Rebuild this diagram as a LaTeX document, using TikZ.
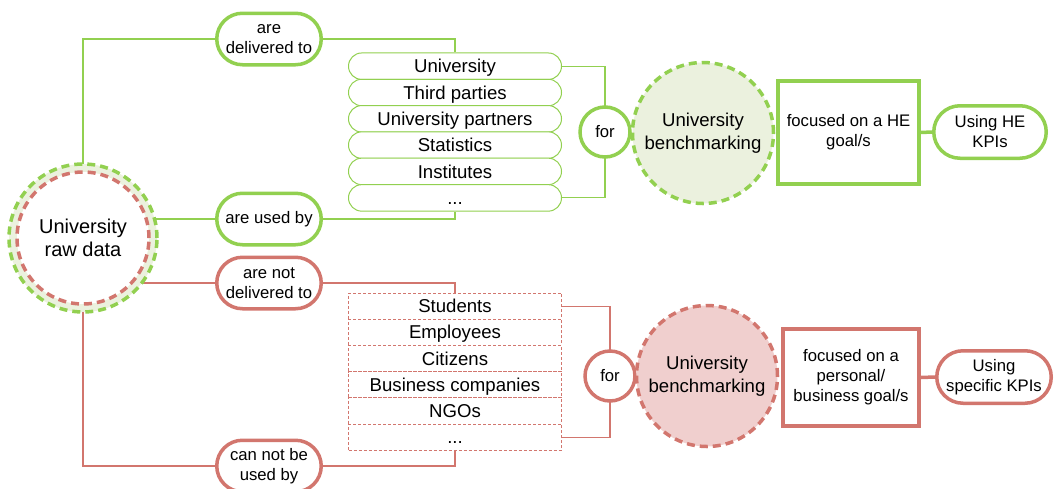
\documentclass[tikz,border=0pt]{standalone}
\usepackage{fontspec}
\setmainfont{Liberation Sans}
\usetikzlibrary{shapes.misc,backgrounds}
\definecolor{gr}{RGB}{146,208,80}
\definecolor{rd}{RGB}{210,118,110}
\definecolor{grfill}{RGB}{235,241,222}
\definecolor{rdfill}{RGB}{240,207,206}
\begin{document}
\begin{tikzpicture}[x=1pt,y=-1pt,
  smalltxt/.style={font=\fontsize{16.7}{20}\selectfont, align=center, inner sep=0pt},
  pill/.style={smalltxt, rounded rectangle, draw, line width=3.5pt, fill=white,
    minimum width=104.5pt, minimum height=51.5pt},
  forc/.style={smalltxt, circle, draw, line width=3.5pt, fill=white, minimum size=50pt},
  bench/.style={circle, draw, line width=3.5pt, dash pattern=on 8pt off 5pt,
    minimum size=141pt, inner sep=0pt, align=center, font=\fontsize{18.6}{22.5}\selectfont},
  focusbox/.style={smalltxt, rectangle, draw, line width=3.5pt, fill=white},
  rowg/.style={rounded rectangle, draw=gr, line width=1pt, fill=white,
    minimum width=213pt, minimum height=26.5pt, inner sep=0pt,
    text height=13.3pt, text depth=0pt, font=\fontsize{18.6}{22}\selectfont},
  rowr/.style={rectangle, draw=rd, line width=0.9pt, dash pattern=on 3pt off 2pt, fill=white,
    minimum width=213pt, minimum height=26.2pt, inner sep=0pt,
    text height=13.3pt, text depth=0pt, font=\fontsize{18.6}{22}\selectfont},
  gline/.style={draw=gr, line width=1.1pt},
  rline/.style={draw=rd, line width=1.1pt},
  thickg/.style={draw=gr, line width=3.5pt},
  thickr/.style={draw=rd, line width=3.5pt}
]
\useasboundingbox (0,0) rectangle (1054,488);

% ---------- main circle ----------
\node[circle, draw=gr, line width=3.5pt, dash pattern=on 8pt off 5pt, fill=grfill,
  minimum size=148pt, inner sep=0pt] (raw) at (83,238) {};
\node[circle, draw=rd, line width=3.5pt, dash pattern=on 8pt off 5pt, fill=white,
  minimum size=132pt, inner sep=0pt, align=center,
  font=\fontsize{20}{23}\selectfont] (rawin) at (83,238) {University\\raw data};

% ---------- green part ----------
\node[pill, draw=gr] (del) at (269,39) {are\\delivered to};
\node[pill, draw=gr] (used) at (269,219) {are used by};

\node[rowg] (g1) at (455,66.2) {University};
\node[rowg] (g2) at (455,92.5) {Third parties};
\node[rowg] (g3) at (455,118.8) {University partners};
\node[rowg] (g4) at (455,145.1) {Statistics};
\node[rowg] (g5) at (455,171.4) {Institutes};
\node[rowg] (g6) at (455,197.9) {...};

\node[forc, draw=gr] (gfor) at (605,132) {for};
\node[bench, draw=gr, fill=grfill] (gbench) at (703,133) {University\\benchmarking};
\node[focusbox, draw=gr, minimum width=141pt, minimum height=103pt] (gfocus) at (848.5,132.5)
  {focused on a HE\\goal/s};
\node[pill, draw=gr, minimum width=112.5pt, minimum height=52.5pt] (gkpi) at (990,132)
  {Using HE\\KPIs};

% ---------- red part ----------
\node[pill, draw=rd] (ndel) at (269,283) {are not\\delivered to};
\node[pill, draw=rd] (nuse) at (269,466) {can not be\\used by};

\node[rowr] (r1) at (455,306.1) {Students};
\node[rowr] (r2) at (455,332.3) {Employees};
\node[rowr] (r3) at (455,358.5) {Citizens};
\node[rowr] (r4) at (455,384.7) {Business companies};
\node[rowr] (r5) at (455,410.9) {NGOs};
\node[rowr] (r6) at (455,437.1) {...};

\node[forc, draw=rd] (rfor) at (610,376) {for};
\node[bench, draw=rd, fill=rdfill] (rbench) at (707,376) {University\\benchmarking};
\node[focusbox, draw=rd, minimum width=136pt, minimum height=97pt] (rfocus) at (851,377.5)
  {focused on a\\personal/\\business goal/s};
\node[pill, draw=rd, minimum width=114.5pt, minimum height=52.5pt] (rkpi) at (994,377)
  {Using\\specific KPIs};

% ---------- connectors ----------
\begin{scope}[on background layer]
  \draw[gline] (raw.center) |- (del.west);
  \draw[gline] (del.east) -| (g1.north);
  \draw[gline] (used.west) -- (used.west -| raw.center);
  \draw[gline] (used.east) -| (g6.south);
  \draw[gline] (g1.east) -| (gfor.center) |- (g6.east);
  \draw[thickg] (gfocus.east) -- (gkpi.west);

  \draw[rline] (ndel.west) -- (ndel.west -| raw.center);
  \draw[rline] (ndel.east) -| (r1.north);
  \draw[rline] (raw.center) |- (nuse.west);
  \draw[rline] (nuse.east) -| (r6.south);
  \draw[rline] (r1.east) -| (rfor.center) |- (r6.east);
  \draw[thickr] (rfocus.east) -- (rkpi.west);
\end{scope}
\end{tikzpicture}
\end{document}
